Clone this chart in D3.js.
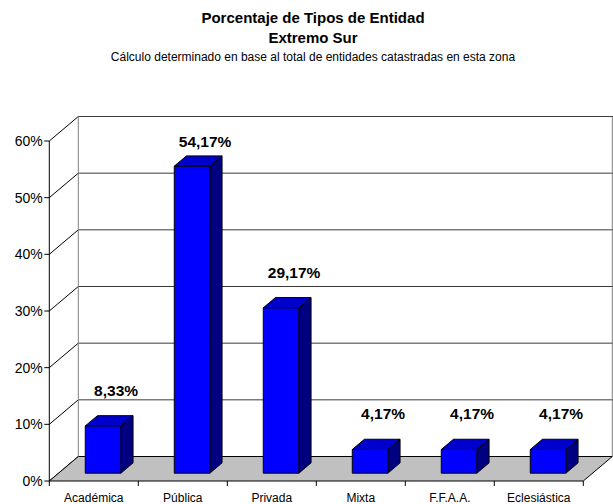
<!DOCTYPE html>
<html><head><meta charset="utf-8">
<script src="https://cdn.jsdelivr.net/npm/d3@7"></script>
<style>
html,body{margin:0;padding:0;background:#fff;}
svg{display:block;font-family:"Liberation Sans",Arial,sans-serif;}
</style></head>
<body>
<svg id="chart" width="613" height="504"></svg>
<script>
const categories = ["Académica","Pública","Privada","Mixta","F.F.A.A.","Eclesiástica"];
const values = [8.33, 54.17, 29.17, 4.17, 4.17, 4.17];
const yTicks = [0, 10, 20, 30, 40, 50, 60];
const titleLines = ["Porcentaje de Tipos de Entidad", "Extremo Sur"];
const subtitle = "Cálculo determinado en base al total de entidades catastradas en esta zona";

const svg = d3.select("#chart");
const DX = 29, DY = 24.5;           // 3D depth offset of walls
const left = 49.3, right = 583.3;
const x = d3.scaleBand().domain(categories).range([left, right]).padding(0);
const y = d3.scaleLinear().domain([0, 60]).range([481, 141]);
const locale = d3.formatLocale({decimal: ",", thousands: ".", grouping: [3]});
const fmt = v => locale.format(".2f")(v) + "%";
const P = (px, py, f) => [px + f * DX, py - f * DY];

// Titles
svg.append("text").attr("x", 313).attr("y", 23).attr("text-anchor", "middle")
  .attr("font-weight", "bold").attr("font-size", 15).text(titleLines[0]);
svg.append("text").attr("x", 313).attr("y", 43).attr("text-anchor", "middle")
  .attr("font-weight", "bold").attr("font-size", 15).text(titleLines[1]);
svg.append("text").attr("x", 313).attr("y", 61).attr("text-anchor", "middle")
  .attr("font-size", 12).text(subtitle);

const g = svg.append("g");
const gridColor = "#3a3a3a";

// back wall gridlines & left-wall diagonals
yTicks.forEach(t => {
  if (t > 0) {
    const a = P(left, y(t), 1), b = P(right, y(t), 1);
    g.append("line").attr("x1", a[0]).attr("y1", a[1]).attr("x2", b[0] + 2).attr("y2", b[1])
      .attr("stroke", gridColor).attr("stroke-width", 1);
  }
  const c = P(left, y(t), 0), d = P(left, y(t), 1);
  g.append("line").attr("x1", c[0]).attr("y1", c[1]).attr("x2", d[0]).attr("y2", d[1])
    .attr("stroke", "#000").attr("stroke-width", 1);
});
// back wall verticals
[left, right].forEach(px => {
  const a = P(px, y(60), 1), b = P(px, y(0), 1);
  g.append("line").attr("x1", a[0]).attr("y1", a[1]).attr("x2", b[0]).attr("y2", b[1])
    .attr("stroke", "#808080").attr("stroke-width", 1);
});

// floor
const floor = [P(left, y(0), 0), P(right, y(0), 0), P(right, y(0), 1), P(left, y(0), 1)];
g.append("polygon").attr("points", floor.map(p => p.join(",")).join(" "))
  .attr("fill", "#c0c0c0").attr("stroke", "#000").attr("stroke-width", 1);

// bars
const bw = x.bandwidth() * 0.4;
const f0 = 0.32, f1 = 0.74;
const data = categories.map((c, i) => ({c, v: values[i]}));
const bars = g.selectAll("g.bar").data(data).join("g").attr("class", "bar");
bars.each(function(d) {
  const sel = d3.select(this);
  const x0 = x(d.c) + (x.bandwidth() - bw) / 2, x1 = x0 + bw;
  const yb = y(0), yt = y(d.v);
  const front = [P(x0, yt, f0), P(x1, yt, f0), P(x1, yb, f0), P(x0, yb, f0)];
  const top = [P(x0, yt, f0), P(x1, yt, f0), P(x1, yt, f1), P(x0, yt, f1)];
  const side = [P(x1, yt, f0), P(x1, yt, f1), P(x1, yb, f1), P(x1, yb, f0)];
  const poly = (pts, fill) => sel.append("polygon").attr("points", pts.map(p => p.join(",")).join(" "))
    .attr("fill", fill).attr("stroke", "#000").attr("stroke-width", 1).attr("stroke-linejoin", "round");
  poly(side, "#000080");
  poly(top, "#0000cc");
  poly(front, "#0000ff");
  const backTop = P(x0, yt, f1)[1];
  const ly = Math.max(backTop - 20, y(60) + 6);
  sel.append("text").attr("x", (x0 + x1) / 2 + f0 * DX + 13).attr("y", ly)
    .attr("text-anchor", "middle").attr("font-weight", "bold").attr("font-size", 15.5)
    .text(fmt(d.v));
});

// y axis
g.append("line").attr("x1", left).attr("y1", y(0)).attr("x2", left).attr("y2", y(60))
  .attr("stroke", "#000");
yTicks.forEach(t => {
  g.append("line").attr("x1", left - 5).attr("y1", y(t)).attr("x2", left).attr("y2", y(t)).attr("stroke", "#000");
  g.append("text").attr("x", left - 6.5).attr("y", y(t)).attr("dy", "0.36em")
    .attr("text-anchor", "end").attr("font-size", 14).text(t + "%");
});

// x axis ticks and labels
const bounds = categories.map(c => x(c)).concat([right]);
bounds.forEach(bx => {
  g.append("line").attr("x1", bx).attr("y1", y(0)).attr("x2", bx).attr("y2", y(0) + 5).attr("stroke", "#000");
});
categories.forEach(c => {
  g.append("text").attr("x", x(c) + x.bandwidth() / 2).attr("y", 501.5)
    .attr("text-anchor", "middle").attr("font-size", 12).text(c);
});
</script>
</body></html>
